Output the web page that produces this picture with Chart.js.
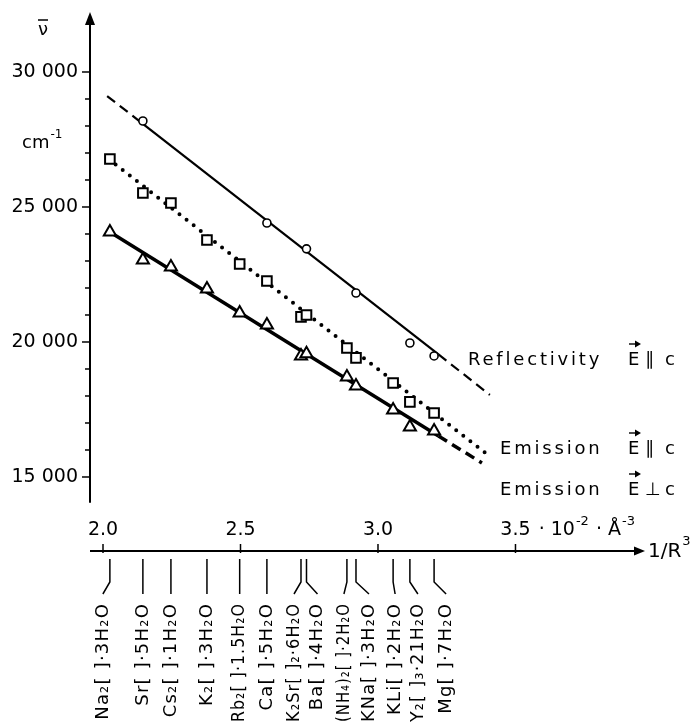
<!DOCTYPE html>
<html>
<head>
<meta charset="utf-8">
<script src="https://cdn.jsdelivr.net/npm/chart.js@4.4.1/dist/chart.umd.min.js"></script>
<style>
  html, body { margin: 0; padding: 0; background: #fff; }
</style>
</head>
<body>
<canvas id="myChart" width="696" height="726"></canvas>
<script>
// compounds shown below the 1/R^3 axis and their 1/R^3 values (10^-2 Å^-3)
const compounds = ['Na₂[ ]·3H₂O', 'Sr[ ]·5H₂O', 'Cs₂[ ]·1H₂O', 'K₂[ ]·3H₂O', 'Rb₂[ ]·1.5H₂O', 'Ca[ ]·5H₂O',
    'K₂Sr[ ]₂·6H₂O', 'Ba[ ]·4H₂O', '(NH₄)₂[ ]·2H₂O', 'KNa[ ]·3H₂O', 'KLi[ ]·2H₂O', 'Y₂[ ]₃·21H₂O', 'Mg[ ]·7H₂O'];
const invR3 = [2.025, 2.145, 2.247, 2.378, 2.497, 2.596, 2.72, 2.74, 2.887, 2.92, 3.055, 3.116, 3.204];

// wavenumbers in cm-1 (null = not measured)
const reflectivity = [null, 28185, null, null, null, 24407, null, 23450, null, 21815, null, 19963, 19482];
const emissionPar = [26780, 25520, 25150, 23780, 22890, 22260, 20930, 21000, 19780, 19410, 18480, 17780, 17370];
const emissionPerp = [24070, 23040, 22780, 21960, 21070, 20630, 19480, 19560, 18700, 18370, 17480, 16850, 16700];

// straight lines through the points (end points)
const reflFitX = [2.015, 2.145, 3.22, 3.407];
const reflFitY = [29110, 28080, 19540, 18040];
const parFitX = [2.02, 3.40];
const parFitY = [26780, 15815];
const perpFitX = [2.025, 3.22, 3.378];
const perpFitY = [24070, 16520, 15520];

const xTickLabels = [2.0, 2.5, 3.0, 3.5];
const yTickLabels = [15000, 20000, 25000, 30000];
const seriesNames = ['Reflectivity', 'Emission', 'Emission'];
const seriesPol = ['∥', '∥', '⊥'];

const FONT = "'DejaVu Sans', sans-serif";
Chart.defaults.font.family = FONT;
Chart.defaults.color = '#000';

function points(vals) {
    return invR3.map((x, i) => ({ x: x, y: vals[i] })).filter(p => p.y !== null);
}
function linePts(xs, ys) {
    return xs.map((x, i) => ({ x: x, y: ys[i] }));
}

function seg(c, x1, y1, x2, y2) {
    c.beginPath(); c.moveTo(x1, y1); c.lineTo(x2, y2); c.stroke();
}
function tri(c, x1, y1, x2, y2, x3, y3) {
    c.beginPath(); c.moveTo(x1, y1); c.lineTo(x2, y2); c.lineTo(x3, y3); c.closePath(); c.fill();
}

// horizontal shift of each compound label from its connector (px)
const labelShift = [-7, 0, 0, 0, 0, 0, -7, 11, -3, 13, 2, 8, 12];

const decorations = {
    id: 'decorations',
    afterDraw(chart) {
        const c = chart.ctx, xs = chart.scales.x, ys = chart.scales.y, a = chart.chartArea;
        c.save();
        c.strokeStyle = '#000';
        c.fillStyle = '#000';
        c.lineCap = 'butt';

        // y axis + arrow
        const x0 = a.left;
        c.lineWidth = 2;
        seg(c, x0, ys.getPixelForValue(14050), x0, a.top + 8);
        tri(c, x0, a.top, x0 - 5, a.top + 13, x0 + 5, a.top + 13);
        ys.ticks.forEach(t => {
            const y = ys.getPixelForValue(t.value);
            const len = yTickLabels.includes(t.value) ? 8 : 5;
            c.lineWidth = 1.5;
            seg(c, x0 - len, y, x0, y);
        });

        // x axis + arrow, ticks and their labels above the line
        const yA = a.bottom;
        c.lineWidth = 2;
        seg(c, x0, yA, a.right - 8, yA);
        tri(c, a.right, yA, a.right - 11, yA - 4.5, a.right - 11, yA + 4.5);
        c.textBaseline = 'middle';
        c.textAlign = 'center';
        c.font = '19px ' + FONT;
        const ty = yA - 21;
        xs.ticks.forEach(t => {
            const x = xs.getPixelForValue(t.value);
            c.lineWidth = 1.5;
            seg(c, x, yA - 7, x, yA + 2);
            c.fillText(t.value.toFixed(1), x, ty);
        });

        // unit after the last x tick label
        c.textAlign = 'left';
        const xl = xs.getPixelForValue(xTickLabels[xTickLabels.length - 1]);
        let sx = xl + c.measureText('3.5').width / 2 + 2;
        const parts = [[' · 10', 0], ['-2', 1], [' · Å', 0], ['-3', 1]];
        parts.forEach(p => {
            c.font = (p[1] ? '13px ' : '19px ') + FONT;
            c.fillText(p[0], sx, p[1] ? ty - 8 : ty);
            sx += c.measureText(p[0]).width + 1;
        });

        // axis titles
        c.font = '20px ' + FONT;
        c.fillText('1/R', a.right + 3, yA + 1);
        const wR = c.measureText('1/R').width;
        c.font = '13px ' + FONT;
        c.fillText('3', a.right + 4 + wR, yA - 9);

        c.font = '18px ' + FONT;
        c.textAlign = 'center';
        c.fillText('ν', 43, 30);
        c.lineWidth = 1.5;
        seg(c, 38, 20, 48, 20);
        c.textAlign = 'left';
        c.fillText('cm', 22, 143);
        const wcm = c.measureText('cm').width;
        c.font = '12px ' + FONT;
        c.fillText('-1', 23 + wcm, 135);

        // series names at the right end of the lines
        const rowY = [360, 449, 490];
        c.font = '18px ' + FONT;
        seriesNames.forEach((name, i) => {
            const nx = i === 0 ? 468 : 500;
            c.letterSpacing = '2.8px';
            c.fillText(name, nx, rowY[i]);
            c.letterSpacing = '0px';
            c.fillText('E', 628, rowY[i]);
            c.lineWidth = 1.4;
            seg(c, 629, rowY[i] - 16, 637, rowY[i] - 16);
            tri(c, 641, rowY[i] - 16, 635, rowY[i] - 19.5, 635, rowY[i] - 12.5);
            c.fillText(seriesPol[i], 645, rowY[i]);
            c.fillText('c', 665, rowY[i]);
        });

        // compound labels with their connectors
        c.lineWidth = 1.5;
        compounds.forEach((name, i) => {
            const px = xs.getPixelForValue(invR3[i]);
            const lx = px + labelShift[i];
            if (labelShift[i] === 0) {
                seg(c, px, yA + 8, px, yA + 43);
            } else {
                c.beginPath();
                c.moveTo(px, yA + 8);
                c.lineTo(px, yA + 31);
                c.lineTo(lx, yA + 43);
                c.stroke();
            }
            c.save();
            c.translate(lx, yA + 52);
            c.rotate(-Math.PI / 2);
            c.font = '18px ' + FONT;
            c.letterSpacing = '1.2px';
            c.textAlign = 'right';
            c.textBaseline = 'middle';
            c.fillText(name, 0, 0, 119);
            c.restore();
        });
        c.restore();
    }
};

const ctx = document.getElementById('myChart').getContext('2d');
new Chart(ctx, {
    type: 'scatter',
    data: {
        datasets: [
            {
                label: 'Reflectivity E∥c',
                data: points(reflectivity),
                pointStyle: 'circle', pointRadius: 4, borderWidth: 1.6,
                borderColor: '#000', backgroundColor: '#fff'
            },
            {
                label: 'Emission E∥c',
                data: points(emissionPar),
                pointStyle: 'rect', pointRadius: 6.8, borderWidth: 2,
                borderColor: '#000', backgroundColor: '#fff'
            },
            {
                label: 'Emission E⊥c',
                data: points(emissionPerp),
                pointStyle: 'triangle', pointRadius: 7, borderWidth: 2,
                borderColor: '#000', backgroundColor: '#fff'
            },
            {
                data: linePts(reflFitX, reflFitY),
                showLine: true, pointRadius: 0, borderWidth: 2.2, borderColor: '#000',
                segment: { borderDash: s => s.p0DataIndex === 1 ? [] : [10, 6] }
            },
            {
                data: linePts(parFitX, parFitY),
                showLine: true, pointRadius: 0, borderWidth: 4, borderColor: '#000',
                borderDash: [0, 9], borderCapStyle: 'round'
            },
            {
                data: linePts(perpFitX, perpFitY),
                showLine: true, pointRadius: 0, borderWidth: 3.5, borderColor: '#000',
                segment: { borderDash: s => s.p0DataIndex === 0 ? [] : [10, 6] }
            }
        ]
    },
    options: {
        responsive: false,
        animation: false,
        events: [],
        layout: { padding: { top: 12, right: 51, left: 0, bottom: 0 } },
        plugins: { legend: { display: false }, tooltip: { enabled: false } },
        scales: {
            x: {
                type: 'linear',
                min: 1.9527,
                max: 3.971,
                afterBuildTicks: s => { s.ticks = xTickLabels.map(v => ({ value: v })); },
                afterFit: s => {
                    s.height = 175;
                    s.paddingLeft = 0; s.paddingRight = 0;
                },
                grid: { display: false, drawTicks: false },
                border: { display: false },
                ticks: { display: false }
            },
            y: {
                min: 12259,
                max: 32222,
                afterBuildTicks: s => {
                    const t = [];
                    for (let v = yTickLabels[0]; v <= yTickLabels[yTickLabels.length - 1]; v += 1000) t.push({ value: v });
                    s.ticks = t;
                },
                afterFit: s => {
                    s.width = 90;
                    s.paddingTop = 0; s.paddingBottom = 0;
                },
                grid: { display: false, drawTicks: false },
                border: { display: false },
                ticks: {
                    autoSkip: false,
                    padding: 12,
                    font: { size: 19 },
                    callback: v => yTickLabels.includes(v) ? (v / 1000) + ' 000' : ''
                }
            }
        }
    },
    plugins: [decorations]
});
</script>
</body>
</html>
